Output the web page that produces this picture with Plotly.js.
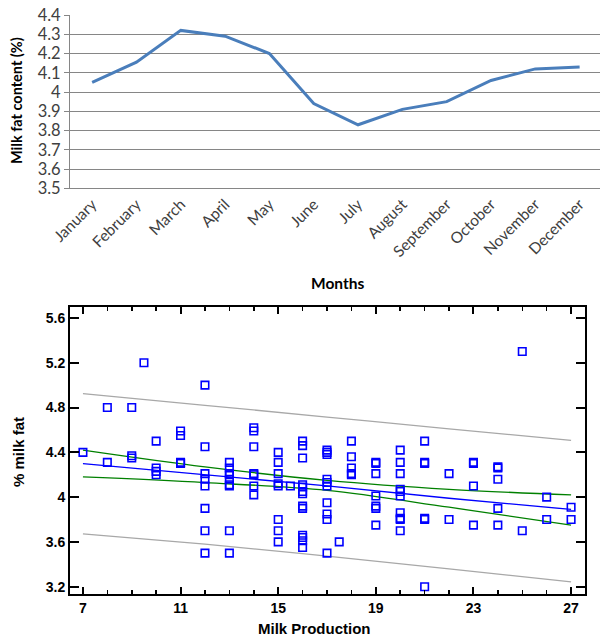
<!DOCTYPE html>
<html>
<head>
<meta charset="utf-8">
<script src="https://cdn.plot.ly/plotly-3.0.1.min.js"></script>
<style>html,body{margin:0;padding:0;background:#fff;}#chart{width:600px;height:637px;}</style>
</head>
<body>
<div id="chart"></div>
<script>
// ---- Top chart: monthly milk fat content ----
const months = ["January","February","March","April","May","June","July","August","September","October","November","December"];
const fatContent = [4.05, 4.155, 4.32, 4.29, 4.20, 3.94, 3.83, 3.91, 3.95, 4.06, 4.12, 4.13];

// ---- Bottom chart: % milk fat vs milk production ----
const milkProduction = [
  7,
  8, 8,
  9, 9, 9,
  9.5,
  10, 10, 10, 10,
  11, 11, 11, 11,
  12, 12, 12, 12, 12, 12, 12, 12,
  13, 13, 13, 13, 13, 13, 13, 13, 13,
  14, 14, 14, 14, 14, 14, 14,
  15, 15, 15, 15, 15, 15, 15, 15,
  15.5,
  16, 16, 16, 16, 16, 16, 16, 16, 16, 16, 16, 16, 16,
  17, 17, 17, 17, 17, 17, 17, 17, 17, 17,
  17.5,
  18, 18, 18, 18, 18,
  19, 19, 19, 19, 19, 19, 19,
  20, 20, 20, 20, 20, 20, 20, 20, 20, 20,
  21, 21, 21, 21, 21, 21,
  22, 22,
  23, 23, 23, 23,
  24, 24, 24, 24, 24,
  25, 25,
  26, 26,
  27, 27
];
const milkFat = [
  4.40,
  4.80, 4.31,
  4.80, 4.37, 4.35,
  5.20,
  4.50, 4.26, 4.23, 4.20,
  4.59, 4.55, 4.31, 4.30,
  5.00, 4.45, 4.21, 4.16, 4.10, 3.90, 3.70, 3.50,
  4.31, 4.26, 4.21, 4.20, 4.16, 4.11, 4.10, 3.70, 3.50,
  4.62, 4.59, 4.45, 4.21, 4.20, 4.10, 4.02,
  4.40, 4.31, 4.21, 4.12, 4.10, 3.80, 3.70, 3.60,
  4.10,
  4.50, 4.46, 4.35, 4.11, 4.09, 4.05, 4.03, 3.92, 3.90, 3.66, 3.64, 3.61, 3.55,
  4.42, 4.40, 4.38, 4.16, 4.13, 4.10, 3.95, 3.85, 3.80, 3.50,
  3.60,
  4.50, 4.36, 4.26, 4.21, 4.20,
  4.31, 4.30, 4.21, 4.01, 3.92, 3.90, 3.75,
  4.42, 4.31, 4.21, 4.07, 4.05, 4.01, 3.86, 3.81, 3.80, 3.70,
  4.50, 4.31, 4.30, 3.81, 3.80, 3.20,
  4.21, 3.80,
  4.31, 4.30, 4.10, 3.75,
  4.27, 4.26, 4.16, 3.90, 3.75,
  5.30, 3.70,
  4.00, 3.80,
  3.91, 3.80
];

// fitted line and bands
const fitX        = [7, 12, 17, 22, 27];
const fitLine     = [4.30, 4.20, 4.10, 3.99, 3.89];
const confUpper   = [4.42, 4.27, 4.15, 4.07, 4.02];
const confLower   = [4.18, 4.13, 4.06, 3.91, 3.75];
const predUpper   = [4.925, 4.82, 4.715, 4.61, 4.507];
const predLower   = [3.672, 3.58, 3.474, 3.36, 3.244];

const yTicksBottom = [3.2, 3.6, 4, 4.4, 4.8, 5.2, 5.6];
const xTicksBottom = [7, 11, 15, 19, 23, 27];

const W = 600, H = 637;
const px = v => v / W;
const py = v => 1 - v / H;

const traces = [
  {x: months, y: fatContent, type: 'scatter', mode: 'lines', xaxis: 'x', yaxis: 'y',
   line: {color: '#4a7ebb', width: 3}, hoverinfo: 'skip', showlegend: false},
  {x: fitX, y: predUpper, type: 'scatter', mode: 'lines', xaxis: 'x2', yaxis: 'y2',
   line: {color: '#a8a8a8', width: 1.3, shape: 'spline'}, showlegend: false},
  {x: fitX, y: predLower, type: 'scatter', mode: 'lines', xaxis: 'x2', yaxis: 'y2',
   line: {color: '#a8a8a8', width: 1.3, shape: 'spline'}, showlegend: false},
  {x: fitX, y: confUpper, type: 'scatter', mode: 'lines', xaxis: 'x2', yaxis: 'y2',
   line: {color: '#008000', width: 1.3, shape: 'spline'}, showlegend: false},
  {x: fitX, y: confLower, type: 'scatter', mode: 'lines', xaxis: 'x2', yaxis: 'y2',
   line: {color: '#008000', width: 1.3, shape: 'spline'}, showlegend: false},
  {x: fitX, y: fitLine, type: 'scatter', mode: 'lines', xaxis: 'x2', yaxis: 'y2',
   line: {color: '#0000ff', width: 1.3}, showlegend: false},
  {x: milkProduction, y: milkFat, type: 'scatter', mode: 'markers', xaxis: 'x2', yaxis: 'y2',
   marker: {symbol: 'square-open', size: 7.5, color: '#0000ff', line: {width: 1.6, color: '#0000ff'}},
   showlegend: false}
];

const layout = {
  width: W, height: H,
  margin: {l: 0, r: 0, t: 0, b: 0},
  paper_bgcolor: '#ffffff', plot_bgcolor: 'rgba(0,0,0,0)',
  showlegend: false,
  xaxis: {
    domain: [px(70), 1], range: [-0.5, 11.46], type: 'category',
    showgrid: false, zeroline: false, showline: true, linecolor: '#868686', linewidth: 1,
    ticks: '', tickangle: -45,
    tickfont: {family: 'Lato, Carlito, sans-serif', size: 15.5, color: '#404040'},
    fixedrange: true
  },
  yaxis: {
    domain: [py(188.3), py(15)], range: [3.5, 4.4], tick0: 3.5, dtick: 0.1,
    showgrid: true, gridcolor: '#868686', gridwidth: 1, zeroline: false,
    showline: true, linecolor: '#868686', linewidth: 1,
    ticks: 'outside', ticklen: 5, tickcolor: '#868686',
    tickfont: {family: 'Lato, Carlito, sans-serif', size: 16.5, color: '#404040'},
    fixedrange: true
  },
  xaxis2: {
    domain: [px(70), px(585)], range: [6.47, 27.57], anchor: 'y2',
    tickvals: xTicksBottom, ticktext: xTicksBottom.map(String),
    showgrid: false, zeroline: false, showline: true, mirror: 'allticks',
    linecolor: '#000', linewidth: 2,
    ticks: 'inside', ticklen: 7, tickwidth: 2, tickcolor: '#000',
    minor: {dtick: 1, tick0: 7, ticks: 'inside', ticklen: 4, tickwidth: 1.5, tickcolor: '#000', showgrid: false},
    tickfont: {family: 'Arial, Liberation Sans, sans-serif', size: 14, color: '#000', weight: 'bold'},
    fixedrange: true
  },
  yaxis2: {
    domain: [py(594), py(307.3)], range: [3.135, 5.695], anchor: 'x2',
    tickvals: yTicksBottom, ticktext: yTicksBottom.map(String),
    showgrid: false, zeroline: false, showline: true, mirror: 'allticks',
    linecolor: '#000', linewidth: 2,
    ticks: 'inside', ticklen: 9, tickwidth: 2, tickcolor: '#000',
    tickfont: {family: 'Arial, Liberation Sans, sans-serif', size: 14, color: '#000', weight: 'bold'},
    fixedrange: true
  },
  annotations: [
    {text: 'Milk fat content (%)', xref: 'paper', yref: 'paper', x: px(16), y: py(101),
     textangle: -90, showarrow: false, xanchor: 'center', yanchor: 'middle',
     font: {family: 'Lato, Carlito, sans-serif', size: 14.5, color: '#000', weight: 'bold'}},
    {text: 'Months', xref: 'paper', yref: 'paper', x: px(337), y: py(283),
     showarrow: false, xanchor: 'center', yanchor: 'middle',
     font: {family: 'Lato, Carlito, sans-serif', size: 15.5, color: '#000', weight: 'bold'}},
    {text: '% milk fat', xref: 'paper', yref: 'paper', x: px(18), y: py(452),
     textangle: -90, showarrow: false, xanchor: 'center', yanchor: 'middle',
     font: {family: 'Arial, Liberation Sans, sans-serif', size: 15, color: '#000', weight: 'bold'}},
    {text: 'Milk Production', xref: 'paper', yref: 'paper', x: px(314), y: py(628),
     showarrow: false, xanchor: 'center', yanchor: 'middle',
     font: {family: 'Arial, Liberation Sans, sans-serif', size: 15, color: '#000', weight: 'bold'}}
  ]
};

Plotly.newPlot('chart', traces, layout, {displayModeBar: false, staticPlot: true});
</script>
</body>
</html>
